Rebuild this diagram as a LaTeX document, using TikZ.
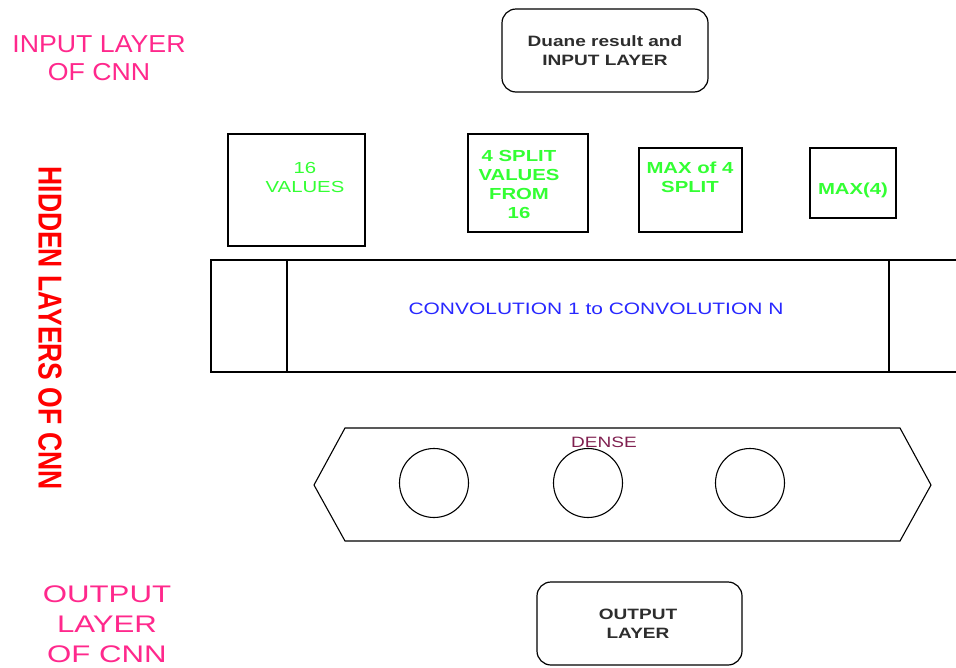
\documentclass[tikz,border=0pt]{standalone}
\usepackage{fontspec}
\setmainfont{Liberation Sans}
\newfontfamily\wideA[FakeStretch=1.27]{Liberation Sans}
\newfontfamily\wideB[FakeStretch=1.09]{Liberation Sans}
\newfontfamily\wideC[FakeStretch=1.3]{Liberation Sans}
\usetikzlibrary{shapes.geometric}
\definecolor{pinkc}{RGB}{255,40,140}
\definecolor{greenc}{RGB}{51,255,51}
\definecolor{bluec}{RGB}{40,40,255}
\definecolor{densec}{RGB}{128,32,80}
\definecolor{darktext}{RGB}{45,45,45}
\tikzset{
  box/.style={draw=black, line width=1.2pt},
  rbox/.style={draw=black, line width=1.2pt, rounded corners=14pt},
  pinklabel/.style={text=pinkc, align=center},
  greenlabel/.style={text=greenc, font=\wideA\fontsize{16}{19}\selectfont\bfseries, align=center},
  boxtext/.style={text=darktext, font=\wideA\fontsize{15}{19}\selectfont\bfseries, align=center},
  neuron/.style={draw=black, line width=1.1pt, circle, minimum size=69pt, inner sep=0pt}
}
\begin{document}
\begin{tikzpicture}[x=1pt,y=-1pt]
\useasboundingbox (0,0) rectangle (956,667);
% left labels
\node[pinklabel, font=\wideB\fontsize{24.5}{28}\selectfont] (inlab) at (99,58) {INPUT LAYER\\OF CNN};
\node[text=red, font=\fontsize{26.5}{30}\selectfont\bfseries, rotate=-90] (hidlab) at (50,328) {\scalebox{1}[1.25]{HIDDEN LAYERS OF CNN}};
\node[pinklabel, font=\wideC\fontsize{24}{30}\selectfont] (outlab) at (107,624) {OUTPUT\\LAYER\\OF CNN};
% input box
\draw[rbox] (502,9) rectangle (708,92);
\node[boxtext] (inbox) at (605,51) {Duane result and\\INPUT LAYER};
% green boxes
\draw[box] (228,134) rectangle (365,246);
\node[greenlabel, font=\wideA\fontsize{16}{19}\selectfont] (v16) at (305,177) {16\\VALUES};
\draw[box] (468,134) rectangle (588,232);
\node[greenlabel] (split) at (519,184) {4 SPLIT\\VALUES\\FROM\\16};
\draw[box] (639,148) rectangle (742,232);
\node[greenlabel] (maxs) at (690,177) {MAX of 4\\SPLIT};
\draw[box] (810,148) rectangle (896,218);
\node[greenlabel] (max4) at (853,190) {MAX(4)};
% convolution
\draw[box] (211,260) rectangle (960,372);
\draw[box] (287,260) -- (287,372);
\draw[box] (889,260) -- (889,372);
\node[text=bluec, font=\wideA\fontsize{16.5}{20}\selectfont] (conv) at (596,309) {CONVOLUTION 1 to CONVOLUTION N};
% dense
\draw[box, line width=1.1pt] (314,485) -- (345,428) -- (900,428) -- (931,485) -- (900,541) -- (345,541) -- cycle;
\node[text=densec, font=\wideA\fontsize{15}{18}\selectfont] (dense) at (604,442) {DENSE};
\node[neuron] (n1) at (434,483) {};
\node[neuron] (n2) at (588,483) {};
\node[neuron] (n3) at (750,483) {};
% output box
\draw[rbox] (537,582) rectangle (742,665);
\node[boxtext] (outbox) at (638,624) {OUTPUT\\LAYER};
\end{tikzpicture}
\end{document}
